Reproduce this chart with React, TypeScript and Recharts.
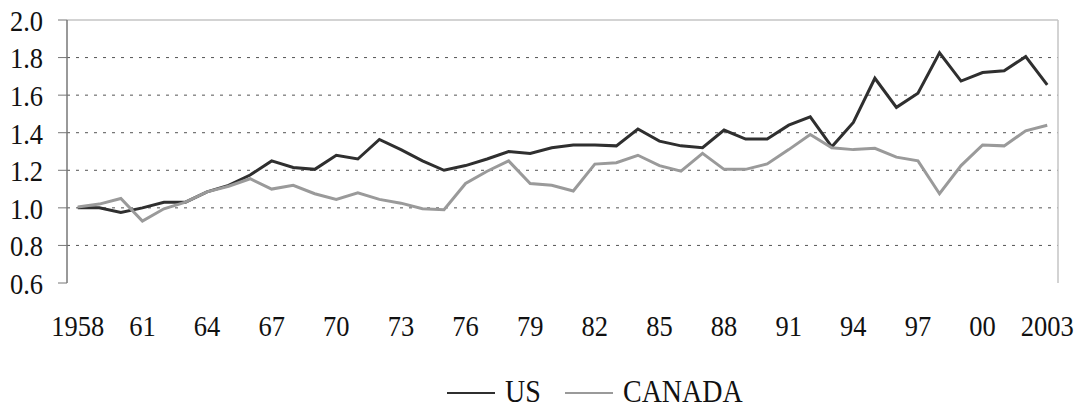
import React from "react";
import {
  LineChart,
  Line,
  XAxis,
  YAxis,
  CartesianGrid,
  ReferenceLine,
  Legend,
} from "recharts";

const years: number[] = [
  1958, 1959, 1960, 1961, 1962, 1963, 1964, 1965, 1966, 1967, 1968, 1969,
  1970, 1971, 1972, 1973, 1974, 1975, 1976, 1977, 1978, 1979, 1980, 1981,
  1982, 1983, 1984, 1985, 1986, 1987, 1988, 1989, 1990, 1991, 1992, 1993,
  1994, 1995, 1996, 1997, 1998, 1999, 2000, 2001, 2002, 2003,
];

const usValues: number[] = [
  1.0, 1.0, 0.975, 1.0, 1.03, 1.03, 1.085, 1.12, 1.175, 1.25, 1.215, 1.205,
  1.28, 1.26, 1.364, 1.31, 1.25, 1.2, 1.225, 1.26, 1.3, 1.29, 1.32, 1.335,
  1.335, 1.33, 1.42, 1.355, 1.33, 1.32, 1.414, 1.366, 1.366, 1.44, 1.484,
  1.325, 1.455, 1.69, 1.535, 1.61, 1.825, 1.675, 1.72, 1.73, 1.805, 1.655,
];

const canadaValues: number[] = [
  1.005, 1.02, 1.05, 0.93, 0.995, 1.03, 1.085, 1.115, 1.155, 1.1, 1.12,
  1.075, 1.045, 1.08, 1.045, 1.025, 0.995, 0.99, 1.13, 1.195, 1.25, 1.13,
  1.12, 1.09, 1.233, 1.24, 1.28, 1.225, 1.195, 1.29, 1.205, 1.205, 1.234,
  1.31, 1.39, 1.32, 1.31, 1.317, 1.27, 1.25, 1.075, 1.225, 1.335, 1.33, 1.41,
  1.44,
];

const seriesOrder: string[] = ["US", "CANADA"];
const yTicks: number[] = [0.6, 0.8, 1.0, 1.2, 1.4, 1.6, 1.8, 2.0];
const gridValues: number[] = [0.8, 1.0, 1.2, 1.4, 1.6, 1.8];
const labelYears: number[] = [
  1958, 1961, 1964, 1967, 1970, 1973, 1976, 1979, 1982, 1985, 1988, 1991,
  1994, 1997, 2000, 2003,
];
const boundaryTicks: number[] = [...years.map((y) => y - 0.5), 2003.5];

const data = years.map((year, i) => ({
  year,
  US: usValues[i],
  CANADA: canadaValues[i],
}));

const FONT = "Liberation Serif";
const STRETCH = 1.15;

const formatYear = (y: number) => {
  if (y === 1958 || y === 2003) return String(y);
  return String(y % 100).padStart(2, "0");
};

const XTick = (props: any) => {
  const { x, y, payload } = props;
  return (
    <g transform={`translate(${x},${y}) scale(1,${STRETCH})`}>
      <text
        x={0}
        y={0}
        dy="0.71em"
        textAnchor="middle"
        fill="#111"
        fontSize={26.5}
        fontFamily={FONT}
      >
        {formatYear(payload.value)}
      </text>
    </g>
  );
};

const YTick = (props: any) => {
  const { x, y, payload } = props;
  return (
    <g transform={`translate(${x},${y}) scale(1,${STRETCH})`}>
      <text
        x={0}
        y={0}
        dy="0.355em"
        textAnchor="end"
        fill="#111"
        fontSize={26.5}
        fontFamily={FONT}
      >
        {Number(payload.value).toFixed(1)}
      </text>
    </g>
  );
};

// legend item layout (line length, gap to label, item starts)
const LEGEND_LINE = 48;
const LEGEND_TEXT_GAP = 10;
const LEGEND_ITEM_X = [0, 118];

const LegendContent = (props: any) => {
  const payload = [...(props.payload || [])].sort(
    (a: any, b: any) => seriesOrder.indexOf(a.value) - seriesOrder.indexOf(b.value)
  );
  return (
    <svg width={320} height={40} style={{ display: "block", overflow: "visible" }}>
      {payload.map((entry: any, i: number) => {
        const x0 = LEGEND_ITEM_X[i] ?? 0;
        return (
          <g key={entry.value}>
            <line
              x1={x0}
              y1={20}
              x2={x0 + LEGEND_LINE}
              y2={20}
              stroke={entry.color}
              strokeWidth={2.2}
            />
            <g transform={`translate(${x0 + LEGEND_LINE + LEGEND_TEXT_GAP},18) scale(1,${STRETCH})`}>
              <text
                x={0}
                y={0}
                dy="0.33em"
                fill="#111"
                fontSize={28}
                fontFamily={FONT}
              >
                {entry.value}
              </text>
            </g>
          </g>
        );
      })}
    </svg>
  );
};

export default function App() {
  return (
    <div style={{ position: "absolute", left: 0, top: 0, background: "#fff" }}>
      <LineChart
        width={1078}
        height={404}
        data={data}
        margin={{ top: 20, right: 20, bottom: 61, left: 0 }}
      >
        <CartesianGrid
          vertical={false}
          horizontalValues={gridValues}
          stroke="#555"
          strokeDasharray="3 6"
        />
        <ReferenceLine y={2.0} stroke="#c4c4c4" strokeWidth={1.5} />
        <ReferenceLine x={2003.5} stroke="#c4c4c4" strokeWidth={1.5} />
        <XAxis
          dataKey="year"
          type="number"
          domain={[1957.5, 2003.5]}
          ticks={boundaryTicks}
          tick={false}
          height={0}
          tickSize={9}
          axisLine={{ stroke: "#777", strokeWidth: 1.5 }}
          tickLine={{ stroke: "#777" }}
          allowDataOverflow
        />
        <XAxis
          xAxisId="labels"
          dataKey="year"
          type="number"
          domain={[1957.5, 2003.5]}
          ticks={labelYears}
          interval={0}
          height={60}
          tickSize={0}
          tickMargin={31}
          axisLine={false}
          tickLine={false}
          tick={<XTick />}
          allowDataOverflow
        />
        <YAxis
          domain={[0.6, 2.0]}
          ticks={yTicks}
          interval={0}
          width={67}
          tickSize={9}
          tickMargin={15}
          axisLine={{ stroke: "#777", strokeWidth: 1.5 }}
          tickLine={{ stroke: "#777" }}
          tick={<YTick />}
          allowDataOverflow
        />
        <Legend
          layout="horizontal"
          verticalAlign="middle"
          align="center"
          content={LegendContent}
          wrapperStyle={{ left: 447, top: 373, width: 320, height: 40 }}
        />
        <Line
          type="linear"
          dataKey="US"
          name="US"
          stroke="#2f2f2f"
          strokeWidth={3}
          dot={false}
          isAnimationActive={false}
        />
        <Line
          type="linear"
          dataKey="CANADA"
          name="CANADA"
          stroke="#9a9a9a"
          strokeWidth={3}
          dot={false}
          isAnimationActive={false}
        />
      </LineChart>
    </div>
  );
}
